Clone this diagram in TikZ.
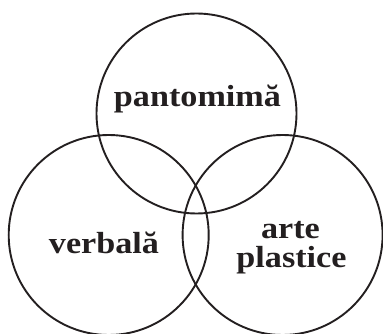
\documentclass[tikz,border=0pt]{standalone}
\usepackage{fontspec}
\setmainfont{Liberation Serif}
\definecolor{ink}{HTML}{231F20}
\begin{document}
\begin{tikzpicture}[x=1pt,y=-1pt,
  ring/.style={draw=ink,line width=1.9pt},
  lbl/.style={text=ink,font=\fontsize{30.5}{30.5}\selectfont\bfseries,anchor=base,inner sep=0pt,xscale=1.12}]
\useasboundingbox (0,0) rectangle (383,334);
\clip (0,0) rectangle (383,334);
\coordinate (ct) at (196.5,113.5);
\coordinate (cl) at (108.7,235);
\coordinate (cr) at (282.6,235);
\draw[ring] (ct) circle[radius=100];
\draw[ring] (cl) circle[radius=100];
\draw[ring] (cr) circle[radius=100];
\node[lbl] (p) at (197.5,106.5) {pantomimă};
\node[lbl] (v) at (104,253) {verbală};
\node[lbl] (a) at (290.5,238) {arte};
\node[lbl] (ps) at (291.5,267) {plastice};
\end{tikzpicture}
\end{document}
